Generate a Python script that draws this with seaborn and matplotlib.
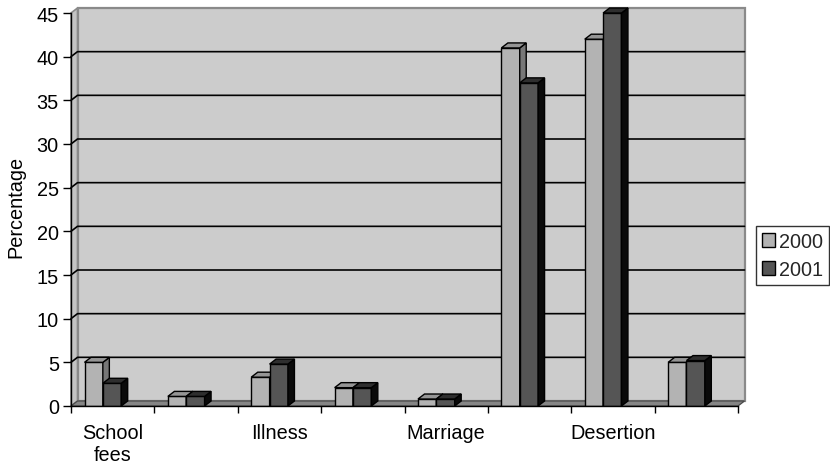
import numpy as np
import pandas as pd
import matplotlib
matplotlib.use("Agg")
import matplotlib.pyplot as plt
import seaborn as sns
from matplotlib.patches import Polygon, Patch
from matplotlib.lines import Line2D

# Reasons (only every other category carries a printed label)
reasons = ["School\nfees", "", "Illness", "", "Marriage", "", "Desertion", ""]
years = ["2000", "2001"]
pct_2000 = [5.0, 1.1, 3.3, 2.1, 0.8, 41.0, 42.0, 5.0]
pct_2001 = [2.6, 1.1, 4.8, 2.1, 0.8, 37.0, 45.0, 5.2]
y_ticks = list(range(0, 46, 5))

front_colors = {"2000": "#b3b3b3", "2001": "#555555"}
side_colors = {"2000": "#777777", "2001": "#0a0a0a"}
top_colors = {"2000": "#959595", "2001": "#2e2e2e"}

n = len(reasons)
df = pd.DataFrame({
    "slot": np.tile(np.arange(n), 2),
    "year": np.repeat(years, n),
    "pct": pct_2000 + pct_2001,
})

sns.set_style("white")
plt.rcParams["font.family"] = ["Liberation Sans", "DejaVu Sans"]
FS = 14.3

fig = plt.figure(figsize=(8.3, 4.64), dpi=100)
ax = fig.add_axes([71 / 830, 57 / 464, 667 / 830, 393 / 464])
ax.set_facecolor("none")

sns.barplot(data=df, x="slot", y="pct", hue="year", hue_order=years,
            palette=front_colors, width=0.44, saturation=1,
            edgecolor="black", linewidth=1, errorbar=None, ax=ax)

# category slots sit slightly right of the front bar faces (3-D projection)
shift = 0.118
x0, x1 = -0.5 + shift, n - 0.5 + shift
ax.set_xlim(x0, x1)
ax.set_ylim(0, 45)

# depth of the pseudo-3D box, in pixels, converted to data units
bbox = ax.get_window_extent()
dx = 6.5 * (x1 - x0) / bbox.width
dy = 5.0 * 45 / bbox.height

wall_edge = "#8a8a8a"
# back wall
ax.add_patch(Polygon([(x0 + dx, dy), (x1 + dx, dy), (x1 + dx, 45 + dy), (x0 + dx, 45 + dy)],
                     closed=True, facecolor="#cccccc", edgecolor=wall_edge, lw=1.6,
                     zorder=0.3, clip_on=False))
# left side wall
ax.add_patch(Polygon([(x0, 0), (x0, 45), (x0 + dx, 45 + dy), (x0 + dx, dy)],
                     closed=True, facecolor="#c4c4c4", edgecolor=wall_edge, lw=1.2,
                     zorder=0.35, clip_on=False))
# gridlines on the walls
for v in y_ticks[1:-1]:
    ax.add_line(Line2D([x0, x0 + dx, x1 + dx], [v, v + dy, v + dy],
                       color="black", lw=1.2, zorder=0.5, clip_on=False))
# floor
ax.add_patch(Polygon([(x0, 0), (x1, 0), (x1 + dx, dy), (x0 + dx, dy)],
                     closed=True, facecolor="#858585", edgecolor="#4a4a4a", lw=0.9,
                     zorder=0.6, clip_on=False))

# side and top faces for every bar, layered left to right
bars = []
for year, cont in zip(years, ax.containers):
    for p in cont.patches:
        bars.append((p.get_x(), year, p))
bars.sort(key=lambda t: t[0])
for k, (bx, year, p) in enumerate(bars):
    w, h = p.get_width(), p.get_height()
    z = 2 + k * 0.01
    p.set_zorder(z)
    ax.add_patch(Polygon([(bx + w, 0), (bx + w, h), (bx + w + dx, h + dy), (bx + w + dx, dy)],
                         closed=True, facecolor=side_colors[year], edgecolor="black",
                         lw=1, zorder=z, clip_on=False))
    ax.add_patch(Polygon([(bx, h), (bx + w, h), (bx + w + dx, h + dy), (bx + dx, h + dy)],
                         closed=True, facecolor=top_colors[year], edgecolor="black",
                         lw=1, zorder=z, clip_on=False))

# axes decoration
ax.set_xticks(np.arange(n + 1) - 0.5 + shift, labels=[""] * (n + 1))
ax.set_xticks(np.arange(n) + shift, labels=reasons, minor=True)
ax.tick_params(axis="x", which="major", bottom=True, length=5.2, width=1,
               color="black", direction="out")
ax.tick_params(axis="x", which="minor", bottom=True, length=0, pad=12,
               labelsize=FS, labelcolor="black")
ax.set_yticks(y_ticks)
ax.tick_params(axis="y", left=True, length=5.8, width=1, color="black",
               direction="out", labelsize=FS, pad=3, labelcolor="black")
ax.set_xlabel("")
ax.set_ylabel("Percentage", fontsize=FS, color="black")
ax.yaxis.set_label_coords(-0.069, 0.509)

for s in ["top", "right"]:
    ax.spines[s].set_visible(False)
for s in ["left", "bottom"]:
    ax.spines[s].set_color("black")
    ax.spines[s].set_linewidth(1)
    ax.spines[s].set_zorder(3)

ax.get_legend().remove()
handles = [Patch(facecolor=front_colors[y], edgecolor="black", linewidth=1) for y in years]
leg = fig.legend(handles, years, loc="center left",
                 bbox_to_anchor=(756 / 830, 207.5 / 464), frameon=True,
                 fancybox=False, edgecolor="black", fontsize=FS,
                 handlelength=0.64, handleheight=0.64, handletextpad=0.22,
                 labelspacing=0.45, borderpad=0.3, borderaxespad=0)
leg.get_frame().set_linewidth(1)

fig.savefig("out.png", dpi=100)
